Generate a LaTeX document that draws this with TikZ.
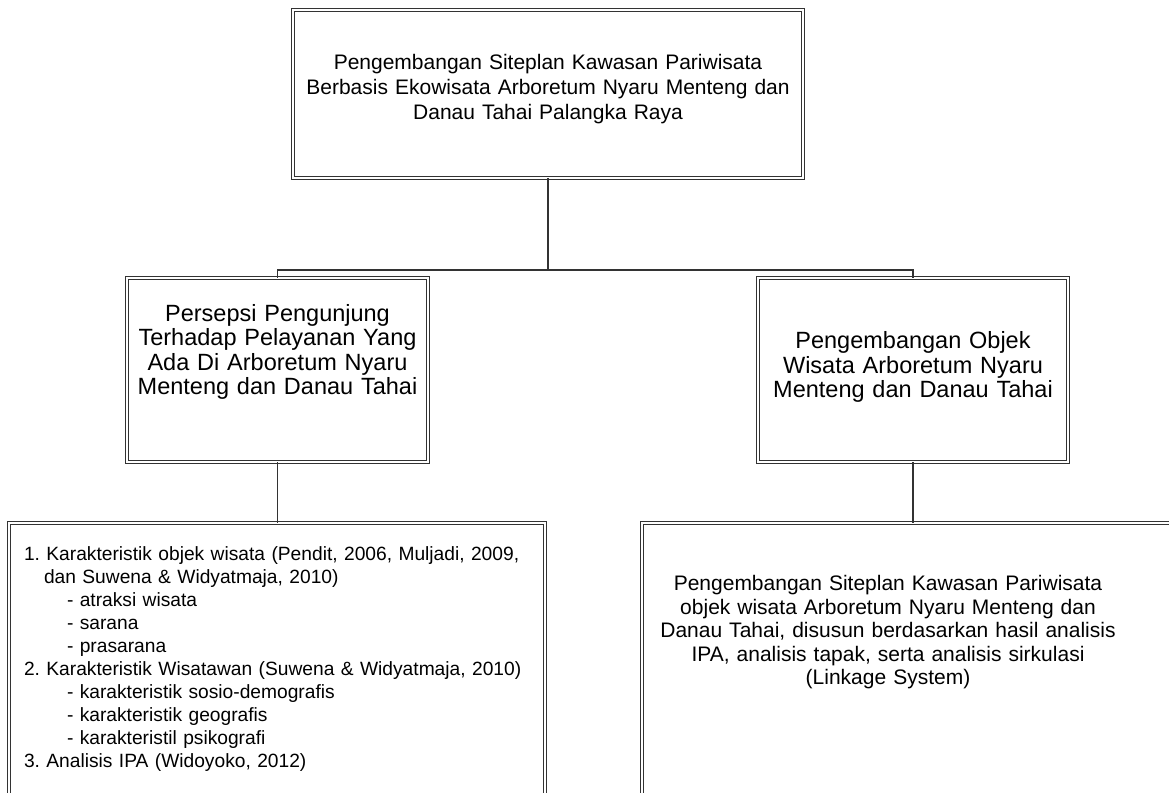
\documentclass[tikz,border=0pt]{standalone}
\usepackage{fontspec}
\setmainfont{Liberation Sans}
\definecolor{linegray}{HTML}{333333}
\tikzset{
  box/.style={draw=linegray, double=white, double distance=2pt, line width=0.9pt,
    fill=white, inner sep=0pt, text height=15pt},
  link/.style={draw=linegray, line width=1.2pt}
}
\begin{document}
\frenchspacing
\begin{tikzpicture}[x=1pt, y=-1pt]
    \useasboundingbox (0,0) rectangle (1169,792);
    % Top
    \node[box, minimum width=510pt, minimum height=168pt, text width=505pt, align=center,
      text depth=64pt, font=\fontsize{21pt}{25pt}\selectfont] (top) at (548,94)
      {Pengembangan Siteplan Kawasan Pariwisata\\
       Berbasis Ekowisata Arboretum Nyaru Menteng dan\\
       Danau Tahai Palangka Raya};
    % Middle
    \node[box, minimum width=301pt, minimum height=184pt, text width=296pt, align=center,
      text height=17pt, text depth=115pt, font=\fontsize{23.5pt}{24.5pt}\selectfont] (persepsi) at (277.5,370)
      {Persepsi Pengunjung\\ Terhadap Pelayanan Yang\\ Ada Di Arboretum Nyaru\\ Menteng dan Danau Tahai};
    \node[box, minimum width=310pt, minimum height=184pt, text width=300pt, align=center,
      text height=17pt, text depth=60pt, font=\fontsize{23.5pt}{24.5pt}\selectfont] (objek) at (913,370)
      {Pengembangan Objek\\ Wisata Arboretum Nyaru\\ Menteng dan Danau Tahai};
    % Bottom
    \node[box, minimum width=536pt, minimum height=290pt, text width=506pt, align=left,
      text depth=231pt, font=\fontsize{19.2pt}{23pt}\selectfont] (karakter) at (277,668)
      {1. Karakteristik objek wisata (Pendit, 2006, Muljadi, 2009,\\
       \hspace*{20pt}dan Suwena \& Widyatmaja, 2010)\\
       \hspace*{43pt}- atraksi wisata\\
       \hspace*{43pt}- sarana\\
       \hspace*{43pt}- prasarana\\
       2. Karakteristik Wisatawan (Suwena \& Widyatmaja, 2010)\\
       \hspace*{43pt}- karakteristik sosio-demografis\\
       \hspace*{43pt}- karakteristik geografis\\
       \hspace*{43pt}- karakteristil psikografi\\
       3. Analisis IPA (Widoyoko, 2012)};
    \node[box, minimum width=542pt, minimum height=290pt, text width=542pt,
      text depth=170pt, font=\fontsize{21pt}{23.5pt}\selectfont] (siteplan) at (913,668)
      {\centering\rightskip=50pt plus 1fil
       Pengembangan Siteplan Kawasan Pariwisata\\
       objek wisata Arboretum Nyaru Menteng dan\\
       Danau Tahai, disusun berdasarkan hasil analisis\\
       IPA, analisis tapak, serta analisis sirkulasi\\
       (Linkage System)\par};
    % Connectors
    \coordinate (split) at (548,270);
    \draw[link] (top.south) -- (split);
    \draw[link] (persepsi.north) |- (split) -| (objek.north);
    \draw[link] (persepsi.south) -- (persepsi.south |- karakter.north);
    \draw[link] (objek.south) -- (siteplan.north);
\end{tikzpicture}
\end{document}
